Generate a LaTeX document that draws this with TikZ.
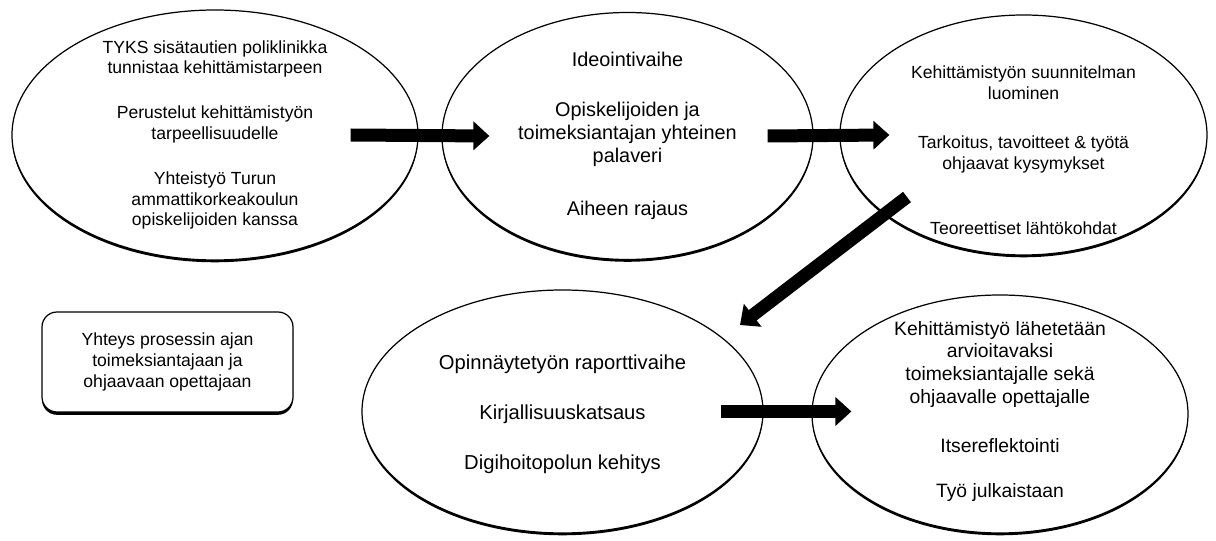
\documentclass[tikz,border=0pt]{standalone}
\usepackage{fontspec}
\setmainfont{Liberation Sans}
\usetikzlibrary{shapes.geometric,shadows,arrows.meta,calc}

\begin{document}
\begin{tikzpicture}[
    every node/.style={font=\fontsize{10}{11.7}\selectfont, align=center}
  ]

  \tikzset{
      soikio/.style={draw=black, line width=0.7pt, ellipse, fill=white, inner sep=0pt,
        drop shadow={shadow xshift=0pt, shadow yshift=-1.3pt, fill=black, opacity=1}},
      laatikko/.style={draw=black, line width=0.7pt, rounded corners=0.3cm, fill=white,
        minimum width=5.02cm, minimum height=2cm, font=\fontsize{10}{12}\selectfont,
        drop shadow={shadow xshift=0pt, shadow yshift=-1.6pt, fill=black, opacity=1}},
      nuoli/.style={line width=0.26cm, -{Triangle[length=0.32cm, width=0.56cm]}},
      iso/.style={font=\fontsize{11.3}{13.3}\selectfont}
  }

  \useasboundingbox (0,0) rectangle (24.32,10.82);

  % Ylärivi
  \node[soikio, minimum width=8.12cm, minimum height=5cm] (s1) at (4.30,8.12) {};
  \node (t1) at (s1) {TYKS sisätautien poliklinikka\\ tunnistaa kehittämistarpeen\\[14pt]
    Perustelut kehittämistyön\\ tarpeellisuudelle\\[14pt]
    Yhteistyö Turun\\ ammattikorkeakoulun\\ opiskelijoiden kanssa};

  \node[soikio, minimum width=7.42cm, minimum height=4.94cm] (s2) at (12.55,8.10) {};
  \node[iso] (t2) at (s2) {Ideointivaihe\\[15pt] Opiskelijoiden ja\\ toimeksiantajan yhteinen\\ palaveri\\[17pt] Aiheen rajaus};

  \node[soikio, minimum width=7.34cm, minimum height=4.8cm] (s3) at (20.47,8.12) {};
  \node[font=\fontsize{10}{12}\selectfont] (t3) at ([yshift=-0.3cm]s3.center) {Kehittämistyön suunnitelman\\ luominen\\[16pt]
    Tarkoitus, tavoitteet \& työtä\\ ohjaavat kysymykset\\[25pt] Teoreettiset lähtökohdat};

  % Alarivi
  \node[laatikko] (yhteys) at (3.35,3.58) {Yhteys prosessin ajan\\ toimeksiantajaan ja\\ ohjaavaan opettajaan};

  \node[soikio, minimum width=8.02cm, minimum height=4.86cm] (s4) at (11.25,2.59) {};
  \node[font=\fontsize{11.5}{13.5}\selectfont] (t4) at ([yshift=-0.06cm]s4.center) {Opinnäytetyön raporttivaihe\\[15pt] Kirjallisuuskatsaus\\[15pt] Digihoitopolun kehitys};

  \node[soikio, minimum width=7.52cm, minimum height=4.76cm] (s5) at (20.0,2.54) {};
  \node[font=\fontsize{11}{12.9}\selectfont] (t5) at ([yshift=0.05cm]s5.center) {Kehittämistyö lähetetään\\ arvioitavaksi\\ toimeksiantajalle sekä\\ ohjaavalle opettajalle\\[15pt]
    Itsereflektointi\\[13pt] Työ julkaistaan};

  % Nuolet
  \draw[nuoli] ([xshift=-1.36cm]s1.east) -- ([xshift=0.96cm]s2.west);
  \draw[nuoli] ([xshift=-0.92cm]s2.east) -- ([xshift=1.0cm]s3.west);
  \draw[nuoli] ([shift={(-2.33,-1.24)}]s3.center) -- ([shift={(3.55,1.73)}]s4.center);
  \draw[nuoli] ([xshift=-0.86cm]s4.east) -- ($(s4.east -| s5.west)+(0.8,0)$);

\end{tikzpicture}
\end{document}
